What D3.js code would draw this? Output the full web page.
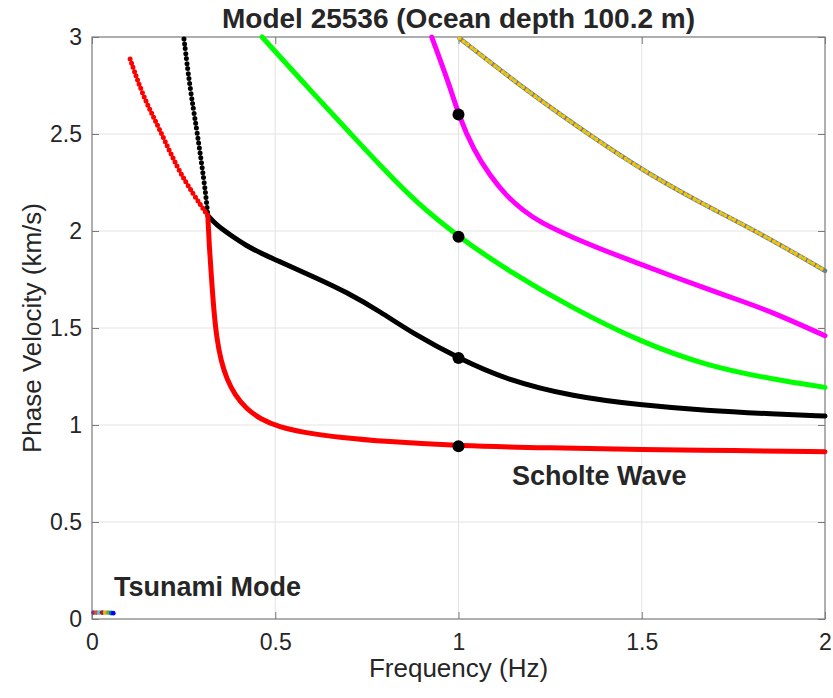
<!DOCTYPE html>
<html lang="en">
<head>
<meta charset="utf-8">
<script src="https://d3js.org/d3.v7.min.js"></script>
<title>Model 25536 dispersion</title>
<style>
  body { margin: 0; background: #fff; }
  text { font-family: "Liberation Sans", Arial, Helvetica, sans-serif; fill: #262626; }
</style>
</head>
<body>
<svg id="chart" width="833" height="698"></svg>
<script>
// frequency (Hz) and phase velocity (km/s)
var redUpperFreq = [0.104, 0.14, 0.186, 0.231, 0.276, 0.316];
var redUpperVel  = [2.887, 2.69, 2.52, 2.33, 2.19, 2.08];
var redLowerFreq = [0.316, 0.320, 0.326, 0.332, 0.340, 0.352, 0.368, 0.39, 0.42, 0.46, 0.51, 0.58, 0.68, 0.8, 1.0, 1.25, 1.5, 1.75, 2.0];
var redLowerVel  = [2.08, 1.92, 1.76, 1.60, 1.45, 1.33, 1.235, 1.155, 1.085, 1.03, 0.99, 0.96, 0.935, 0.915, 0.892, 0.882, 0.874, 0.868, 0.862];

var blackUpperFreq = [0.251, 0.267, 0.286, 0.299, 0.311, 0.316];
var blackUpperVel  = [2.99, 2.74, 2.52, 2.35, 2.18, 2.08];
var blackLowerFreq = [0.316, 0.34, 0.377, 0.42, 0.467, 0.52, 0.604, 0.695, 0.786, 0.877, 1.0, 1.131, 1.313, 1.495, 1.677, 1.859, 2.0];
var blackLowerVel  = [2.08, 2.03, 1.98, 1.925, 1.88, 1.835, 1.765, 1.685, 1.585, 1.47, 1.344, 1.232, 1.146, 1.103, 1.074, 1.057, 1.046];

var greenFreq = [0.464, 0.613, 0.704, 0.795, 0.886, 1.0, 1.131, 1.313, 1.495, 1.677, 1.859, 2.0];
var greenVel  = [3.0, 2.69, 2.505, 2.32, 2.145, 1.97, 1.80, 1.60, 1.43, 1.305, 1.235, 1.194];

var magentaFreq = [0.927, 0.977, 1.0, 1.041, 1.086, 1.131, 1.177, 1.222, 1.313, 1.404, 1.495, 1.586, 1.677, 1.768, 1.859, 2.0];
var magentaVel  = [3.0, 2.744, 2.598, 2.418, 2.285, 2.18, 2.105, 2.045, 1.965, 1.895, 1.83, 1.765, 1.703, 1.642, 1.58, 1.46];

var yellowFreq = [1.003, 1.195, 1.377, 1.502, 1.65, 1.832, 2.0];
var yellowVel  = [2.993, 2.71, 2.469, 2.314, 2.155, 1.98, 1.795];

var tsunamiFreq = [0.004, 0.012, 0.02, 0.028, 0.036, 0.044, 0.052, 0.058];
var tsunamiVel  = [0.033, 0.033, 0.033, 0.033, 0.033, 0.033, 0.031, 0.03];
var tsunamiColors = ["#7e2f8e", "#d95319", "#4dbeee", "#a2142f", "#edb120", "#77ac30", "#0072bd", "#0000ff"];

var markFreq = [1.0, 1.0, 1.0, 1.0];
var markVel  = [2.6, 1.97, 1.345, 0.89];

var xTicks = [0, 0.5, 1, 1.5, 2];
var xTickLabels = ["0", "0.5", "1", "1.5", "2"];
var yTicks = [0, 0.5, 1, 1.5, 2, 2.5, 3];
var yTickLabels = ["0", "0.5", "1", "1.5", "2", "2.5", "3"];

var title = "Model 25536 (Ocean depth 100.2 m)";

// layout
var margin = {top: 37, left: 92, right: 8, bottom: 79};
var svg = d3.select("#chart");
var W = +svg.attr("width"), H = +svg.attr("height");
var w = W - margin.left - margin.right;
var h = H - margin.top - margin.bottom;

var x = d3.scaleLinear().domain([0, 2]).range([0, w]);
var y = d3.scaleLinear().domain([0, 3]).range([h, 0]);

var g = svg.append("g").attr("transform", "translate(" + margin.left + "," + margin.top + ")");

// grid
g.append("g").selectAll("line").data(xTicks.slice(1, -1)).enter().append("line")
  .attr("x1", function(d){ return x(d); }).attr("x2", function(d){ return x(d); })
  .attr("y1", 0).attr("y2", h)
  .attr("stroke", "#e3e3e3").attr("stroke-width", 1);
g.append("g").selectAll("line").data(yTicks.slice(1, -1)).enter().append("line")
  .attr("y1", function(d){ return y(d); }).attr("y2", function(d){ return y(d); })
  .attr("x1", 0).attr("x2", w)
  .attr("stroke", "#e3e3e3").attr("stroke-width", 1);

// axes (ticks inward, box on)
function styleAxis(sel) {
  sel.select(".domain").remove();
  sel.selectAll(".tick line").attr("stroke", "#7a7a7a");
  sel.selectAll(".tick text").style("font-size", "23px").attr("fill", "#262626");
}
var xAxis = g.append("g").attr("transform", "translate(0," + h + ")")
  .call(d3.axisBottom(x).tickValues(xTicks).tickSize(-7).tickPadding(15)
    .tickFormat(function(d, i){ return xTickLabels[i]; }));
styleAxis(xAxis);
var xTop = g.append("g")
  .call(d3.axisTop(x).tickValues(xTicks).tickSize(-7).tickFormat(""));
styleAxis(xTop);
var yAxis = g.append("g")
  .call(d3.axisLeft(y).tickValues(yTicks).tickSize(-7).tickPadding(10)
    .tickFormat(function(d, i){ return yTickLabels[i]; }));
styleAxis(yAxis);
var yRight = g.append("g").attr("transform", "translate(" + w + ",0)")
  .call(d3.axisRight(y).tickValues(yTicks).tickSize(-7).tickFormat(""));
styleAxis(yRight);

g.append("rect").attr("width", w).attr("height", h)
  .attr("fill", "none").attr("stroke", "#7a7a7a").attr("stroke-width", 1.2);

// curves
var plot = g.append("g");
function pairs(fs, vs) { return fs.map(function(f, i){ return [f, vs[i]]; }); }
var line = d3.line()
  .x(function(d){ return x(d[0]); })
  .y(function(d){ return y(d[1]); })
  .curve(d3.curveBasis);

function curve(fs, vs, color, width, dash) {
  var p = plot.append("path").datum(pairs(fs, vs))
    .attr("d", line).attr("fill", "none")
    .attr("stroke", color).attr("stroke-width", width)
    .attr("stroke-linecap", "round").attr("stroke-linejoin", "round");
  if (dash) p.attr("stroke-dasharray", dash);
  return p;
}

// yellow multi-series curve (overlapping coloured dots)
curve(yellowFreq, yellowVel, "#6f7f86", 4.5);
curve(yellowFreq, yellowVel, "#ffc000", 4, "0 5");
curve(yellowFreq, yellowVel, "#b9cf3a", 3, "0 10").attr("stroke-dashoffset", 2.5);

curve(magentaFreq, magentaVel, "#ff00ff", 5);
curve(greenFreq, greenVel, "#00ff00", 5);
curve(blackUpperFreq, blackUpperVel, "#000000", 5, "0 5");
curve(blackLowerFreq, blackLowerVel, "#000000", 5);
curve(redUpperFreq, redUpperVel, "#ff0000", 5, "0 4.5");
curve(redLowerFreq, redLowerVel, "#ff0000", 5);

// tsunami mode dots
plot.append("g").selectAll("circle").data(pairs(tsunamiFreq, tsunamiVel)).enter().append("circle")
  .attr("cx", function(d){ return x(d[0]); })
  .attr("cy", function(d){ return y(d[1]); })
  .attr("r", 2.4)
  .attr("fill", function(d, i){ return tsunamiColors[i]; });

// 1 Hz markers
plot.append("g").selectAll("circle").data(pairs(markFreq, markVel)).enter().append("circle")
  .attr("cx", function(d){ return x(d[0]); })
  .attr("cy", function(d){ return y(d[1]); })
  .attr("r", 6).attr("fill", "#000");

// annotations
g.append("text").attr("x", 420).attr("y", 448)
  .style("font-size", "27px").style("font-weight", "bold").attr("fill", "#000")
  .text("Scholte Wave");
g.append("text").attr("x", 22).attr("y", 559)
  .style("font-size", "27px").style("font-weight", "bold").attr("fill", "#000")
  .text("Tsunami Mode");

// title and labels
svg.append("text").attr("x", margin.left + w / 2).attr("y", 28)
  .attr("text-anchor", "middle")
  .style("font-size", "28px").style("font-weight", "bold").attr("fill", "#000")
  .text(title);
svg.append("text").attr("x", margin.left + w / 2).attr("y", 677)
  .attr("text-anchor", "middle").style("font-size", "26px")
  .text("Frequency (Hz)");
svg.append("text")
  .attr("transform", "translate(41," + (margin.top + h / 2) + ") rotate(-90)")
  .attr("text-anchor", "middle").style("font-size", "26px")
  .text("Phase Velocity (km/s)");
</script>
</body>
</html>
